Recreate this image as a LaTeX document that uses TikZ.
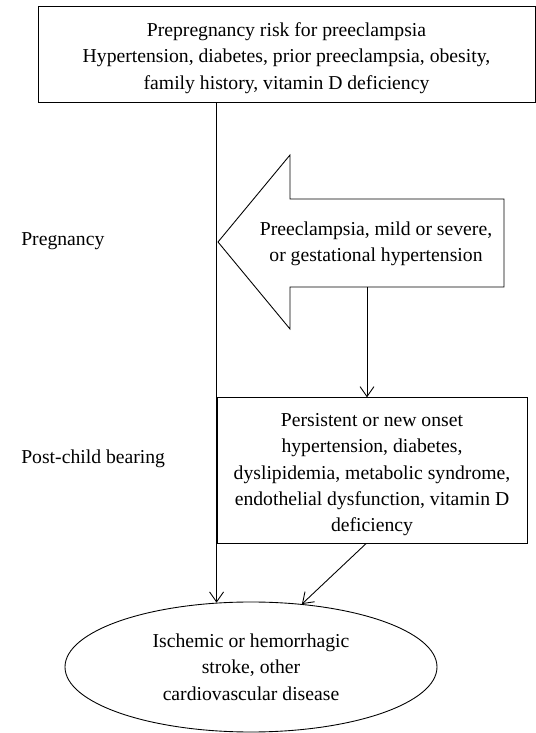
\documentclass[tikz,border=0pt]{standalone}
\usepackage{fontspec}
\setmainfont{Liberation Serif}
\usetikzlibrary{arrows.meta, positioning, calc, shapes.geometric}

\begin{document}
\begin{tikzpicture}[
    line width=0.5pt,
    txt/.style={font=\fontsize{11.2}{15}\selectfont, align=center},
    boxed/.style={txt, draw, inner sep=4pt},
    link/.style={-{Straight Barb[length=2mm, width=2.8mm]}}
  ]
  \useasboundingbox (0, 0) rectangle (10.72, 14.66);

  % Prepregnancy risk
  \node[boxed, minimum width=9.94cm, minimum height=1.92cm] (risk) at (5.73, 13.58) {
    \rule{0pt}{2.4ex}Prepregnancy risk for preeclampsia\\
    Hypertension, diabetes, prior preeclampsia, obesity,\\
    family history, vitamin D deficiency
  };

  % Stage labels
  \node[txt, anchor=west] (preglabel) at (0.3, 9.84) {Pregnancy};
  \node[txt, anchor=west] (postlabel) at (0.3, 5.48) {Post-child bearing};

  % Big arrow
  \draw (4.36, 9.82) -- (5.8, 11.56) -- (5.8, 10.68) -- (10.08, 10.68)
    -- (10.08, 8.92) -- (5.8, 8.92) -- (5.8, 8.08) -- cycle;
  \node[txt] (pre) at (7.52, 9.78) {
    Preeclampsia, mild or severe,\\
    or gestational hypertension
  };
  \coordinate (shaftbot) at (7.34, 8.92);

  % Post-child bearing box
  \node[boxed, minimum width=6.2cm, minimum height=2.9cm] (post) at (7.44, 5.25) {
    \rule{0pt}{2.4ex}Persistent or new onset\\
    hypertension, diabetes,\\
    dyslipidemia, metabolic syndrome,\\
    endothelial dysfunction, vitamin D\\
    deficiency
  };

  % Outcome
  \node[txt, draw, ellipse, inner sep=0pt, minimum width=7.44cm, minimum height=2.6cm] (stroke) at (5.02, 1.32) {
    Ischemic or hemorrhagic\\
    stroke, other\\
    cardiovascular disease
  };

  % Connectors
  \draw[link] (risk.south -| post.west) -- (post.west |- stroke.118);
  \draw[link] (shaftbot) -- (shaftbot |- post.north);
  \draw[link] ([xshift=-1.2mm]post.south) -- (stroke.51);
\end{tikzpicture}
\end{document}
